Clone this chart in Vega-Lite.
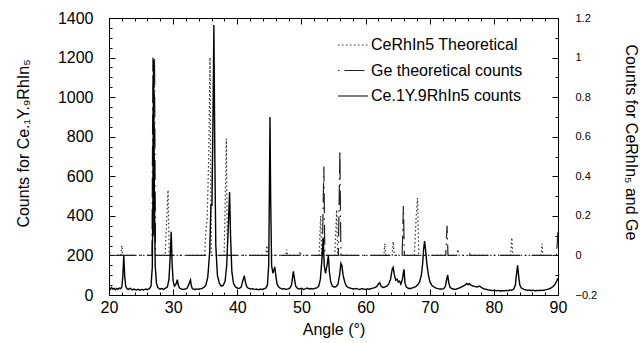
{
  "$schema": "https://vega.github.io/schema/vega-lite/v6.json",
  "width": 449,
  "height": 277,
  "autosize": {"type": "none"},
  "padding": {"left": 109, "top": 18, "right": 82, "bottom": 48},
  "background": "white",
  "config": {
    "view": {"stroke": "#000", "strokeWidth": 1},
    "axis": {"labelFont": "Liberation Sans", "titleFont": "Liberation Sans", "labelColor": "#000", "titleColor": "#000", "tickColor": "#000", "tickWidth": 1, "grid": false, "domain": false, "titleFontWeight": "normal", "labelFlush": false, "labelOverlap": false},
    "legend": {"orient": "none", "legendX": 228, "legendY": 11, "padding": 0, "labelFont": "Liberation Sans", "labelFontSize": 16, "labelColor": "#000", "labelOffset": 2, "symbolType": "stroke", "symbolSize": 900, "symbolStrokeWidth": 1.2, "rowPadding": 1.5}
  },
  "datasets": {
    "sample": [
      {"a":20.0,"c":35},{"a":20.2,"c":28},{"a":20.4,"c":38},{"a":20.6,"c":30},{"a":20.8,"c":34},{"a":21.0,"c":27},{"a":21.2,"c":33},{"a":21.4,"c":29},{"a":21.6,"c":35},{"a":21.8,"c":32},
      {"a":22.0,"c":40},{"a":22.15,"c":90},{"a":22.3,"c":200},{"a":22.45,"c":95},{"a":22.6,"c":45},{"a":22.8,"c":32},{"a":23.0,"c":28},{"a":23.3,"c":34},{"a":23.6,"c":26},{"a":23.9,"c":30},
      {"a":24.2,"c":25},{"a":24.5,"c":29},{"a":24.8,"c":24},{"a":25.1,"c":28},{"a":25.4,"c":25},{"a":25.7,"c":30},{"a":26.0,"c":27},{"a":26.3,"c":32},{"a":26.55,"c":45},{"a":26.75,"c":140},
      {"a":26.85,"c":500},{"a":26.95,"c":1190},{"a":27.05,"c":600},{"a":27.2,"c":150},{"a":27.4,"c":60},{"a":27.6,"c":38},{"a":27.9,"c":30},{"a":28.2,"c":33},{"a":28.5,"c":28},{"a":28.8,"c":35},
      {"a":29.1,"c":40},{"a":29.35,"c":80},{"a":29.55,"c":200},{"a":29.7,"c":320},{"a":29.85,"c":150},{"a":30.0,"c":70},{"a":30.2,"c":45},{"a":30.45,"c":55},{"a":30.65,"c":78},{"a":30.8,"c":50},
      {"a":31.0,"c":35},{"a":31.3,"c":30},{"a":31.6,"c":28},{"a":31.9,"c":30},{"a":32.2,"c":35},{"a":32.45,"c":55},{"a":32.7,"c":76},{"a":32.85,"c":45},{"a":33.0,"c":32},{"a":33.3,"c":28},
      {"a":33.6,"c":30},{"a":33.9,"c":29},{"a":34.2,"c":31},{"a":34.5,"c":33},{"a":34.8,"c":38},{"a":35.1,"c":50},{"a":35.4,"c":90},{"a":35.7,"c":220},{"a":35.9,"c":460},{"a":36.05,"c":450},
      {"a":36.2,"c":850},{"a":36.35,"c":1365},{"a":36.5,"c":700},{"a":36.65,"c":250},{"a":36.9,"c":100},{"a":37.2,"c":60},{"a":37.5,"c":45},{"a":37.8,"c":48},{"a":38.1,"c":70},{"a":38.35,"c":150},
      {"a":38.55,"c":300},{"a":38.8,"c":520},{"a":38.95,"c":300},{"a":39.15,"c":120},{"a":39.4,"c":60},{"a":39.7,"c":42},{"a":40.0,"c":35},{"a":40.3,"c":33},{"a":40.6,"c":40},{"a":40.85,"c":70},
      {"a":41.1,"c":97},{"a":41.3,"c":60},{"a":41.55,"c":38},{"a":41.8,"c":33},{"a":42.1,"c":30},{"a":42.4,"c":32},{"a":42.7,"c":28},{"a":43.0,"c":30},{"a":43.3,"c":26},{"a":43.6,"c":30},
      {"a":43.9,"c":28},{"a":44.2,"c":32},{"a":44.45,"c":35},{"a":44.7,"c":50},{"a":44.9,"c":150},{"a":45.0,"c":500},{"a":45.1,"c":900},{"a":45.2,"c":500},{"a":45.35,"c":150},{"a":45.55,"c":110},
      {"a":45.7,"c":125},{"a":45.85,"c":142},{"a":46.0,"c":100},{"a":46.2,"c":55},{"a":46.45,"c":40},{"a":46.7,"c":35},{"a":47.0,"c":30},{"a":47.3,"c":32},{"a":47.6,"c":28},{"a":47.9,"c":31},
      {"a":48.2,"c":35},{"a":48.45,"c":50},{"a":48.62,"c":90},{"a":48.75,"c":120},{"a":48.9,"c":85},{"a":49.1,"c":45},{"a":49.4,"c":33},{"a":49.7,"c":30},{"a":50.0,"c":34},{"a":50.3,"c":28},
      {"a":50.6,"c":31},{"a":50.9,"c":35},{"a":51.2,"c":30},{"a":51.5,"c":33},{"a":51.8,"c":30},{"a":52.1,"c":34},{"a":52.4,"c":36},{"a":52.7,"c":45},{"a":52.95,"c":80},{"a":53.2,"c":180},
      {"a":53.4,"c":290},{"a":53.55,"c":150},{"a":53.75,"c":110},{"a":54.0,"c":150},{"a":54.2,"c":200},{"a":54.35,"c":120},{"a":54.55,"c":70},{"a":54.8,"c":45},{"a":55.1,"c":40},{"a":55.4,"c":42},
      {"a":55.7,"c":55},{"a":55.95,"c":100},{"a":56.15,"c":160},{"a":56.3,"c":150},{"a":56.5,"c":100},{"a":56.75,"c":65},{"a":57.0,"c":45},{"a":57.3,"c":38},{"a":57.6,"c":35},{"a":57.9,"c":32},
      {"a":58.2,"c":30},{"a":58.5,"c":33},{"a":58.8,"c":30},{"a":59.1,"c":28},{"a":59.4,"c":32},{"a":59.7,"c":30},{"a":60.0,"c":28},{"a":60.3,"c":31},{"a":60.6,"c":29},{"a":60.9,"c":33},
      {"a":61.2,"c":35},{"a":61.5,"c":38},{"a":61.8,"c":45},{"a":62.05,"c":58},{"a":62.2,"c":62},{"a":62.4,"c":45},{"a":62.7,"c":38},{"a":63.0,"c":40},{"a":63.3,"c":45},{"a":63.6,"c":55},
      {"a":63.9,"c":80},{"a":64.15,"c":130},{"a":64.3,"c":140},{"a":64.5,"c":100},{"a":64.7,"c":75},{"a":64.9,"c":80},{"a":65.1,"c":65},{"a":65.3,"c":70},{"a":65.5,"c":55},{"a":65.75,"c":80},
      {"a":65.9,"c":115},{"a":66.0,"c":130},{"a":66.15,"c":60},{"a":66.35,"c":40},{"a":66.6,"c":35},{"a":66.9,"c":32},{"a":67.2,"c":35},{"a":67.5,"c":38},{"a":67.8,"c":42},{"a":68.1,"c":50},
      {"a":68.4,"c":65},{"a":68.7,"c":100},{"a":68.9,"c":160},{"a":69.05,"c":230},{"a":69.2,"c":272},{"a":69.35,"c":230},{"a":69.55,"c":160},{"a":69.8,"c":100},{"a":70.05,"c":65},{"a":70.35,"c":48},
      {"a":70.7,"c":40},{"a":71.0,"c":35},{"a":71.3,"c":32},{"a":71.6,"c":30},{"a":71.9,"c":30},{"a":72.2,"c":32},{"a":72.45,"c":45},{"a":72.65,"c":80},{"a":72.8,"c":102},{"a":72.95,"c":65},
      {"a":73.15,"c":40},{"a":73.4,"c":33},{"a":73.7,"c":30},{"a":74.0,"c":28},{"a":74.3,"c":32},{"a":74.6,"c":35},{"a":74.9,"c":40},{"a":75.2,"c":45},{"a":75.5,"c":50},{"a":75.8,"c":58},
      {"a":76.0,"c":52},{"a":76.2,"c":57},{"a":76.5,"c":48},{"a":76.8,"c":45},{"a":77.1,"c":42},{"a":77.4,"c":40},{"a":77.7,"c":45},{"a":78.0,"c":40},{"a":78.3,"c":33},{"a":78.6,"c":30},
      {"a":78.9,"c":28},{"a":79.2,"c":25},{"a":79.5,"c":24},{"a":79.8,"c":22},{"a":80.1,"c":24},{"a":80.4,"c":21},{"a":80.7,"c":23},{"a":81.0,"c":20},{"a":81.3,"c":22},{"a":81.6,"c":21},
      {"a":81.9,"c":23},{"a":82.2,"c":22},{"a":82.5,"c":25},{"a":82.8,"c":24},{"a":83.1,"c":30},{"a":83.35,"c":50},{"a":83.55,"c":110},{"a":83.7,"c":150},{"a":83.85,"c":100},{"a":84.05,"c":50},
      {"a":84.3,"c":35},{"a":84.6,"c":30},{"a":84.9,"c":26},{"a":85.2,"c":24},{"a":85.5,"c":25},{"a":85.8,"c":22},{"a":86.1,"c":24},{"a":86.4,"c":21},{"a":86.7,"c":23},{"a":87.0,"c":22},
      {"a":87.3,"c":24},{"a":87.6,"c":23},{"a":87.9,"c":25},{"a":88.2,"c":27},{"a":88.5,"c":30},{"a":88.8,"c":33},{"a":89.1,"c":40},{"a":89.4,"c":48},{"a":89.6,"c":58},{"a":89.8,"c":70},{"a":90.0,"c":85}
    ],
    "theory": [
      {"a":20,"v":0,"s":"CeRhIn5 Theoretical"},{"a":21.85,"v":0,"s":"CeRhIn5 Theoretical"},{"a":22.0,"v":0.05,"s":"CeRhIn5 Theoretical"},{"a":22.15,"v":0,"s":"CeRhIn5 Theoretical"},
      {"a":28.75,"v":0,"s":"CeRhIn5 Theoretical"},{"a":29.2,"v":0.33,"s":"CeRhIn5 Theoretical"},{"a":29.4,"v":0,"s":"CeRhIn5 Theoretical"},
      {"a":34.9,"v":0,"s":"CeRhIn5 Theoretical"},{"a":35.1,"v":0.12,"s":"CeRhIn5 Theoretical"},{"a":35.3,"v":0.18,"s":"CeRhIn5 Theoretical"},{"a":35.55,"v":0.5,"s":"CeRhIn5 Theoretical"},{"a":35.75,"v":1.0,"s":"CeRhIn5 Theoretical"},{"a":35.95,"v":0,"s":"CeRhIn5 Theoretical"},
      {"a":37.95,"v":0,"s":"CeRhIn5 Theoretical"},{"a":38.3,"v":0.59,"s":"CeRhIn5 Theoretical"},{"a":38.45,"v":0,"s":"CeRhIn5 Theoretical"},
      {"a":44.45,"v":0,"s":"CeRhIn5 Theoretical"},{"a":44.6,"v":0.05,"s":"CeRhIn5 Theoretical"},{"a":44.75,"v":0,"s":"CeRhIn5 Theoretical"},
      {"a":47.55,"v":0,"s":"CeRhIn5 Theoretical"},{"a":47.7,"v":0.03,"s":"CeRhIn5 Theoretical"},{"a":47.85,"v":0,"s":"CeRhIn5 Theoretical"},
      {"a":49.65,"v":0,"s":"CeRhIn5 Theoretical"},{"a":49.8,"v":0.02,"s":"CeRhIn5 Theoretical"},{"a":49.95,"v":0,"s":"CeRhIn5 Theoretical"},
      {"a":52.75,"v":0,"s":"CeRhIn5 Theoretical"},{"a":53.0,"v":0.2,"s":"CeRhIn5 Theoretical"},{"a":53.15,"v":0,"s":"CeRhIn5 Theoretical"},
      {"a":55.2,"v":0,"s":"CeRhIn5 Theoretical"},{"a":55.5,"v":0.23,"s":"CeRhIn5 Theoretical"},{"a":55.65,"v":0,"s":"CeRhIn5 Theoretical"},
      {"a":62.85,"v":0,"s":"CeRhIn5 Theoretical"},{"a":63.0,"v":0.06,"s":"CeRhIn5 Theoretical"},{"a":63.15,"v":0,"s":"CeRhIn5 Theoretical"},
      {"a":64.15,"v":0,"s":"CeRhIn5 Theoretical"},{"a":64.3,"v":0.07,"s":"CeRhIn5 Theoretical"},{"a":64.45,"v":0,"s":"CeRhIn5 Theoretical"},
      {"a":67.6,"v":0,"s":"CeRhIn5 Theoretical"},{"a":67.9,"v":0.2,"s":"CeRhIn5 Theoretical"},{"a":68.1,"v":0.29,"s":"CeRhIn5 Theoretical"},{"a":68.3,"v":0,"s":"CeRhIn5 Theoretical"},
      {"a":74.2,"v":0,"s":"CeRhIn5 Theoretical"},{"a":74.4,"v":0.03,"s":"CeRhIn5 Theoretical"},{"a":74.6,"v":0,"s":"CeRhIn5 Theoretical"},
      {"a":76.15,"v":0,"s":"CeRhIn5 Theoretical"},{"a":76.3,"v":0.015,"s":"CeRhIn5 Theoretical"},{"a":76.45,"v":0,"s":"CeRhIn5 Theoretical"},
      {"a":82.6,"v":0,"s":"CeRhIn5 Theoretical"},{"a":82.8,"v":0.09,"s":"CeRhIn5 Theoretical"},{"a":82.95,"v":0,"s":"CeRhIn5 Theoretical"},
      {"a":87.35,"v":0,"s":"CeRhIn5 Theoretical"},{"a":87.5,"v":0.06,"s":"CeRhIn5 Theoretical"},{"a":87.65,"v":0,"s":"CeRhIn5 Theoretical"},{"a":90,"v":0,"s":"CeRhIn5 Theoretical"},
      {"a":20,"v":0,"s":"Ge theoretical counts"},{"a":26.7,"v":0,"s":"Ge theoretical counts"},{"a":26.85,"v":1.0,"s":"Ge theoretical counts"},{"a":26.95,"v":0.1,"s":"Ge theoretical counts"},{"a":27.1,"v":1.0,"s":"Ge theoretical counts"},{"a":27.25,"v":0,"s":"Ge theoretical counts"},
      {"a":53.25,"v":0,"s":"Ge theoretical counts"},{"a":53.5,"v":0.45,"s":"Ge theoretical counts"},{"a":53.65,"v":0,"s":"Ge theoretical counts"},
      {"a":55.75,"v":0,"s":"Ge theoretical counts"},{"a":56.0,"v":0.53,"s":"Ge theoretical counts"},{"a":56.15,"v":0,"s":"Ge theoretical counts"},
      {"a":65.7,"v":0,"s":"Ge theoretical counts"},{"a":65.9,"v":0.25,"s":"Ge theoretical counts"},{"a":66.05,"v":0,"s":"Ge theoretical counts"},
      {"a":72.5,"v":0,"s":"Ge theoretical counts"},{"a":72.7,"v":0.15,"s":"Ge theoretical counts"},{"a":72.85,"v":0,"s":"Ge theoretical counts"},
      {"a":89.75,"v":0,"s":"Ge theoretical counts"},{"a":90,"v":0.12,"s":"Ge theoretical counts"}
    ]
  },
  "layer": [
    {
      "data": {"name": "theory"},
      "mark": {"type": "line", "strokeWidth": 1.2, "clip": true},
      "encoding": {
        "x": {"field": "a", "type": "quantitative", "scale": {"domain": [20, 90], "nice": false, "zero": false}, "axis": null},
        "y": {"field": "v", "type": "quantitative", "scale": {"domain": [-0.2, 1.2], "nice": false, "zero": false},
              "axis": {"orient": "right", "values": [-0.2, 0, 0.2, 0.4, 0.6, 0.8, 1, 1.2], "format": ".1~f", "ticks": false, "labelPadding": 17, "labelFontSize": 11, "title": "Counts for CeRhIn₅ and Ge", "titleFontSize": 16, "titlePadding": 26, "titleY": 124}},
        "color": {"field": "s", "type": "nominal", "title": null,
                  "scale": {"domain": ["CeRhIn5 Theoretical", "Ge theoretical counts", "Ce.1Y.9RhIn5 counts"], "range": ["#333333", "#222222", "#000000"]}},
        "strokeDash": {"field": "s", "type": "nominal", "title": null,
                  "scale": {"domain": ["CeRhIn5 Theoretical", "Ge theoretical counts", "Ce.1Y.9RhIn5 counts"], "range": [[1.5, 2.5], [1.5, 5, 20, 5], [1, 0]]}}
      }
    },
    {
      "data": {"name": "sample"},
      "mark": {"type": "line", "strokeWidth": 1.4, "clip": true},
      "encoding": {
        "x": {"field": "a", "type": "quantitative", "scale": {"domain": [20, 90], "nice": false, "zero": false},
              "axis": {"orient": "bottom", "values": [20, 30, 40, 50, 60, 70, 80, 90], "ticks": false, "labelPadding": 4, "labelFontSize": 16, "title": "Angle (°)", "titleFontSize": 16, "titlePadding": 6}},
        "y": {"field": "c", "type": "quantitative", "scale": {"domain": [0, 1400], "nice": false, "zero": false},
              "axis": {"orient": "left", "values": [0, 200, 400, 600, 800, 1000, 1200, 1400], "format": "d", "ticks": false, "labelPadding": 16, "labelFontSize": 16, "title": "Counts for Ce.₁Y.₉RhIn₅", "titleFontSize": 16, "titlePadding": 26, "titleY": 125}},
        "color": {"datum": "Ce.1Y.9RhIn5 counts", "type": "nominal", "title": null,
                  "scale": {"domain": ["CeRhIn5 Theoretical", "Ge theoretical counts", "Ce.1Y.9RhIn5 counts"], "range": ["#333333", "#222222", "#000000"]}},
        "strokeDash": {"datum": "Ce.1Y.9RhIn5 counts", "type": "nominal", "title": null,
                  "scale": {"domain": ["CeRhIn5 Theoretical", "Ge theoretical counts", "Ce.1Y.9RhIn5 counts"], "range": [[1.5, 2.5], [1.5, 5, 20, 5], [1, 0]]}}
      }
    },
    {
      "data": {"name": "sample"},
      "mark": {"type": "line", "opacity": 0},
      "encoding": {
        "x": {"field": "a", "type": "quantitative", "scale": {"domain": [20, 90], "nice": false, "zero": false},
              "axis": {"orient": "bottom", "values": [20,22,24,26,28,30,32,34,36,38,40,42,44,46,48,50,52,54,56,58,60,62,64,66,68,70,72,74,76,78,80,82,84,86,88,90], "labels": false, "title": null,
                       "tickSize": {"condition": {"test": "datum.value % 10 === 0", "value": -6}, "value": -3}}},
        "y": {"field": "c", "type": "quantitative", "scale": {"domain": [0, 1400], "nice": false, "zero": false},
              "axis": {"orient": "left", "values": [0,50,100,150,200,250,300,350,400,450,500,550,600,650,700,750,800,850,900,950,1000,1050,1100,1150,1200,1250,1300,1350,1400], "labels": false, "title": null,
                       "tickSize": {"condition": {"test": "datum.value % 200 === 0", "value": -6}, "value": -3}}}
      }
    },
    {
      "data": {"name": "theory"},
      "mark": {"type": "line", "opacity": 0},
      "encoding": {
        "x": {"field": "a", "type": "quantitative", "scale": {"domain": [20, 90], "nice": false, "zero": false},
              "axis": {"orient": "top", "values": [20,22,24,26,28,30,32,34,36,38,40,42,44,46,48,50,52,54,56,58,60,62,64,66,68,70,72,74,76,78,80,82,84,86,88,90], "labels": false, "title": null,
                       "tickSize": {"condition": {"test": "datum.value % 10 === 0", "value": -6}, "value": -3}}},
        "y": {"field": "v", "type": "quantitative", "scale": {"domain": [-0.2, 1.2], "nice": false, "zero": false},
              "axis": {"orient": "right", "values": [-0.2,-0.1,0,0.1,0.2,0.3,0.4,0.5,0.6,0.7,0.8,0.9,1,1.1,1.2], "labels": false, "title": null,
                       "tickSize": {"condition": {"test": "abs(round(datum.value*10)) % 2 === 0", "value": -6}, "value": -3}}}
      }
    }
  ],
  "resolve": {"scale": {"y": "independent"}, "axis": {"x": "independent", "y": "independent"}}
}
